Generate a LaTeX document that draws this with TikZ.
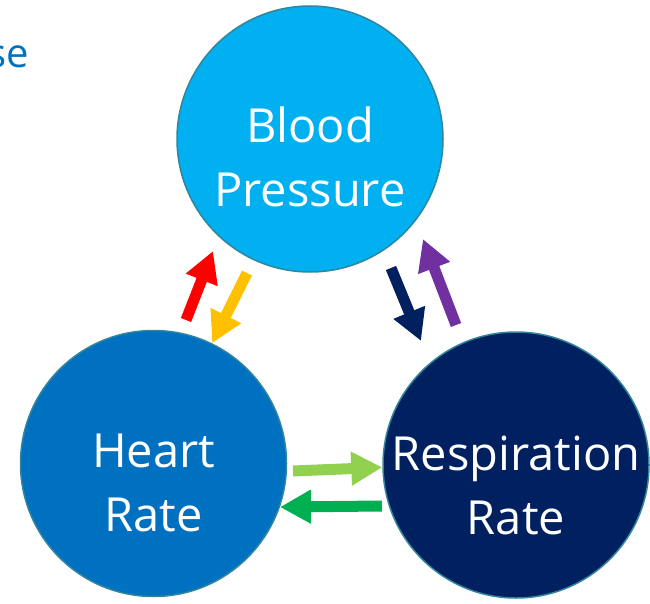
\documentclass[tikz,border=0pt]{standalone}
\usepackage{fontspec}
\setmainfont{Open Sans}
\usetikzlibrary{arrows.meta,positioning}
\definecolor{bpblue}{HTML}{00B0F0}
\definecolor{hrblue}{HTML}{0070C0}
\definecolor{rrnavy}{HTML}{002060}
\definecolor{rim}{HTML}{31859C}
\definecolor{heading}{HTML}{0070C0}
\definecolor{upred}{HTML}{FF0000}
\definecolor{downorange}{HTML}{FFC000}
\definecolor{downnavy}{HTML}{002060}
\definecolor{uppurple}{HTML}{7030A0}
\definecolor{rightgreen}{HTML}{92D050}
\definecolor{leftgreen}{HTML}{00B050}
\begin{document}
\begin{tikzpicture}[
  x=1pt, y=-1pt,
  bubble/.style={circle, minimum size=266pt, inner sep=0pt, draw=rim, line width=1.5pt},
  bubbletext/.style={text=white, align=center, font=\fontsize{47}{64}\selectfont},
  flow/.style={line width=11pt, -{Triangle[width=32pt,length=31pt]}}
]
\useasboundingbox (0,0) rectangle (650,604);

\node[anchor=base east, inner sep=0pt, text=heading, font=\fontsize{40}{48}\selectfont] (title) at (29,68) {se};

\node[bubble, fill=bpblue] (bp) at (310,139) {};
\node[bubble, fill=hrblue] (hr) at (153.5,463.5) {};
\node[bubble, fill=rrnavy] (rr) at (516,465) {};
\node[bubbletext] (bplabel) at (310,157) {Blood\\Pressure};
\node[bubbletext] (hrlabel) at (153.5,483) {Heart\\Rate};
\node[bubbletext] (rrlabel) at (516,485) {Respiration\\Rate};

\coordinate (redtail) at (186,320);
\coordinate (redhead) at (213,251);
\coordinate (orangetail) at (247,273);
\coordinate (navytail) at (391,268);
\coordinate (navyhead) at (421,341);
\coordinate (purpletail) at (456,325);
\coordinate (purplehead) at (423,239);
\coordinate (lighttail) at (293,471);
\coordinate (darktail) at (382,506);

\draw[flow, upred] (redtail) -- (redhead);
\draw[flow, downorange] (orangetail) -- (hr.64.5);
\draw[flow, downnavy] (navytail) -- (navyhead);
\draw[flow, uppurple] (purpletail) -- (purplehead);
\draw[flow, rightgreen] (lighttail) -- (rr.181);
\draw[flow, leftgreen] (darktail) -- (hr.-19);
\end{tikzpicture}
\end{document}
